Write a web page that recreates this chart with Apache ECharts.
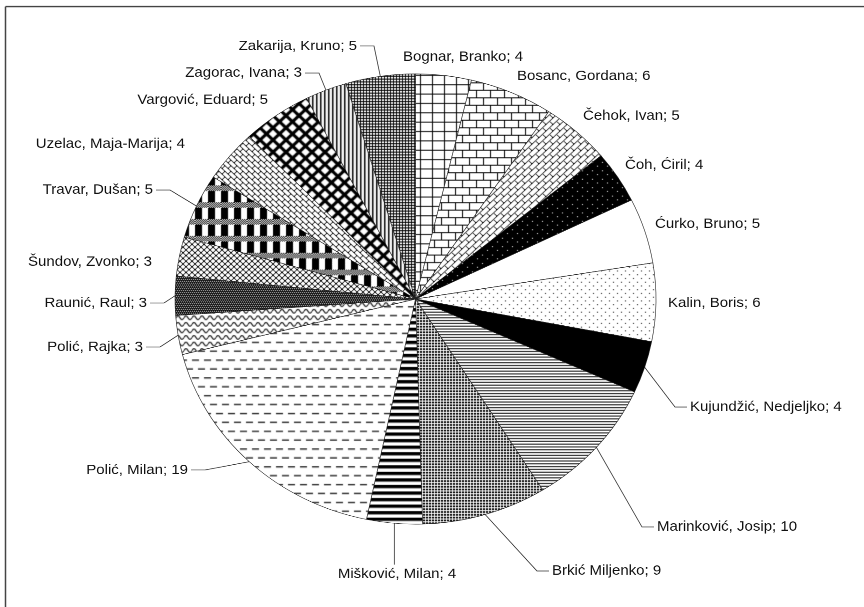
<!DOCTYPE html>
<html>
<head>
<meta charset="utf-8">
<script src="https://cdn.jsdelivr.net/npm/echarts@6/dist/echarts.min.js"></script>
<style>
  html, body { margin: 0; padding: 0; overflow: hidden; background: #fff; width: 864px; height: 607px; }
  #wrap { width: 864px; height: 607px; overflow: hidden; }
  #chart { width: 864px; height: 649px; transform: scaleY(0.936); transform-origin: 0 0; }
</style>
</head>
<body>
<div id="wrap"><div id="chart"></div></div>
<script>
// ---- data ----
const names = [
  'Bognar, Branko', 'Bosanc, Gordana', 'Čehok, Ivan', 'Čoh, Ćiril', 'Ćurko, Bruno',
  'Kalin, Boris', 'Kujundžić, Nedjeljko', 'Marinković, Josip', 'Brkić Miljenko', 'Mišković, Milan',
  'Polić, Milan', 'Polić, Rajka', 'Raunić, Raul', 'Šundov, Zvonko', 'Travar, Dušan',
  'Uzelac, Maja-Marija', 'Vargović, Eduard', 'Zagorac, Ivana', 'Zakarija, Kruno'
];
const values = [4, 6, 5, 4, 5, 6, 4, 10, 9, 4, 19, 3, 3, 3, 5, 4, 5, 3, 5];

// ---- layout (reference pixel coords): [x, y, align, leader type] ----
const S = 0.936; // vertical squash of the whole picture
const labelPos = [
  [403, 57, 'left', null],
  [517, 76, 'left', null],
  [583, 116, 'left', null],
  [625, 165, 'left', null],
  [655, 224, 'left', null],
  [668, 303, 'left', null],
  [690, 407, 'left', 'R'],
  [657, 527, 'left', 'R'],
  [552, 571, 'left', 'R'],
  [397, 574, 'center', 'T'],
  [188, 470, 'right', 'L'],
  [143, 347, 'right', 'L'],
  [147, 303, 'right', 'L'],
  [152, 262, 'right', null],
  [153, 190, 'right', 'L'],
  [185, 144, 'right', null],
  [268, 100, 'right', null],
  [302, 73, 'right', 'L'],
  [357, 46, 'right', 'L']
];

// ---- fill patterns ----
function tile(w, h, bg, draw) {
  const c = document.createElement('canvas');
  c.width = w; c.height = h;
  const g = c.getContext('2d');
  if (bg) { g.fillStyle = bg; g.fillRect(0, 0, w, h); }
  g.fillStyle = '#000'; g.strokeStyle = '#000'; g.lineWidth = 1;
  if (draw) draw(g, w, h);
  return { image: c, repeat: 'repeat' };
}
function diagBrick(a, flip) {
  const T = 2 * a;
  return tile(T, T, '#fff', g => {
    const P = (u, v) => { let x = (u + v) / 2; const y = (u - v) / 2; if (flip) x = T - x; return [x, y]; };
    g.beginPath();
    for (let v = -3 * T; v <= 3 * T; v += a) {
      const p1 = P(-3 * T, v), p2 = P(3 * T, v);
      g.moveTo(p1[0], p1[1]); g.lineTo(p2[0], p2[1]);
    }
    for (let k = -7; k <= 7; k++) {
      const v0 = k * a; const off = (k & 1) ? a : 0;
      for (let u = -3 * T + off; u <= 3 * T; u += 2 * a) {
        const p1 = P(u, v0), p2 = P(u, v0 + a);
        g.moveTo(p1[0], p1[1]); g.lineTo(p2[0], p2[1]);
      }
    }
    g.stroke();
  });
}
const patterns = [
  tile(12, 10, '#fff', g => { g.fillRect(0, 0, 1, 10); g.fillRect(0, 0, 12, 1); }),
  tile(14, 16, '#fff', g => { g.fillRect(0, 0, 14, 1); g.fillRect(0, 8, 14, 1); g.fillRect(0, 0, 1, 8); g.fillRect(7, 8, 1, 8); }),
  diagBrick(7, true),
  tile(10, 9, '#000', g => { g.fillStyle = '#fff'; g.fillRect(2, 2, 1, 1); g.fillRect(7, 6, 1, 1); }),
  '#ffffff',
  tile(8, 8, '#fff', g => { g.fillRect(1, 1, 1, 1); g.fillRect(5, 5, 1, 1); }),
  '#000000',
  tile(4, 3, '#fff', g => { g.fillRect(0, 0, 4, 1); }),
  tile(3, 3, '#fff', g => { g.fillRect(0, 0, 2, 2); }),
  tile(4, 7, '#fff', g => { g.fillRect(0, 0, 4, 3.5); }),
  tile(12, 19, '#fff', g => { g.fillStyle = '#222'; g.fillRect(0, 4, 7, 1.4); g.fillRect(6, 13.5, 6, 1.4); g.fillRect(0, 13.5, 1, 1.4); }),
  tile(8, 7, '#fff', g => {
    g.lineWidth = 1.1; g.beginPath();
    for (const oy of [-7, 0, 7]) {
      g.moveTo(0, 3.5 + oy); g.quadraticCurveTo(2, -0.5 + oy, 4, 3.5 + oy); g.quadraticCurveTo(6, 7.5 + oy, 8, 3.5 + oy);
    }
    g.stroke();
  }),
  tile(4, 4, '#000', g => { g.fillStyle = '#fff'; g.fillRect(0, 0, 1, 1); g.fillRect(2, 0, 1, 1); g.fillRect(1, 2, 1, 1); g.fillRect(3, 2, 1, 1); }),
  tile(6, 6, '#fff', g => { g.beginPath(); g.moveTo(3, 0); g.lineTo(6, 3); g.lineTo(3, 6); g.lineTo(0, 3); g.closePath(); g.stroke(); }),
  tile(13, 18, '#fff', g => {
    g.fillRect(0, 6, 7, 12);
    for (let x = 0; x < 13; x++) { for (let y = 0; y < 6; y++) { if ((x + y) % 2 === 0) g.fillRect(x, y, 1, 1); } }
  }),
  diagBrick(6, false),
  tile(13, 13, '#000', g => {
    g.fillStyle = '#fff';
    const d = (cx, cy) => { g.beginPath(); g.moveTo(cx, cy - 4.2); g.lineTo(cx + 4.2, cy); g.lineTo(cx, cy + 4.2); g.lineTo(cx - 4.2, cy); g.closePath(); g.fill(); };
    [[0, 0], [13, 0], [0, 13], [13, 13], [6.5, 6.5]].forEach(p => d(p[0], p[1]));
  }),
  tile(4, 4, '#fff', g => { g.fillRect(0, 0, 1.5, 4); }),
  tile(3, 3, '#000', g => { g.fillStyle = '#fff'; g.fillRect(1, 1, 2, 2); })
];

const pieData = names.map((n, i) => ({
  name: n,
  value: values[i],
  itemStyle: { color: patterns[i] },
  labelLine: { show: !!labelPos[i][3] }
}));

const chart = echarts.init(document.getElementById('chart'), null, { renderer: 'canvas', devicePixelRatio: 2 });
chart.setOption({
  animation: false,
  backgroundColor: '#fff',
  graphic: [
    { type: 'line', silent: true, shape: { x1: 5.5, y1: 6.5 / S, x2: 864, y2: 6.5 / S }, style: { stroke: '#444', lineWidth: 1.5 } },
    { type: 'line', silent: true, shape: { x1: 5.5, y1: 6.5 / S, x2: 5.5, y2: 660 }, style: { stroke: '#444', lineWidth: 1.5 } }
  ],
  series: [{
    type: 'pie',
    center: [415.5, 299 / S],
    radius: 240.5,
    startAngle: 90,
    clockwise: true,
    avoidLabelOverlap: false,
    silent: true,
    itemStyle: { borderColor: '#222', borderWidth: 0.6 },
    label: {
      show: true,
      position: 'outside',
      formatter: '{b}; {c}',
      color: '#111',
      fontSize: 15,
      fontFamily: 'Liberation Sans, Arial, sans-serif'
    },
    labelLine: {
      show: true,
      length: 20,
      length2: 10,
      lineStyle: { color: '#333', width: 0.8 }
    },
    labelLayout: function (p) {
      const L = labelPos[p.dataIndex];
      const x = L[0], y = L[1] / S, kind = L[3];
      const out = { x: x, y: y, align: L[2], verticalAlign: 'middle' };
      const pts = p.labelLinePoints;
      if (pts && kind) {
        const p0 = pts[0];
        if (kind === 'L') out.labelLinePoints = [p0, [x + 17, y], [x + 3, y]];
        else if (kind === 'R') out.labelLinePoints = [p0, [x - 15, y], [x - 3, y]];
        else out.labelLinePoints = [p0, [p0[0], y - 10], [p0[0], y - 10]];
      }
      return out;
    },
    data: pieData
  }]
});
</script>
</body>
</html>
